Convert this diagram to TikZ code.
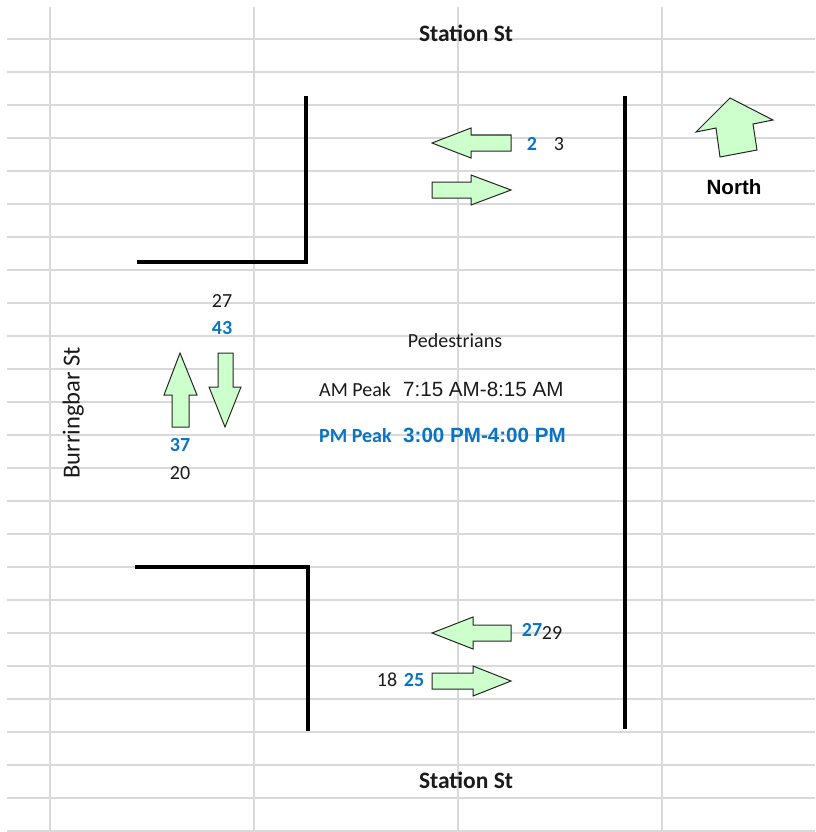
\documentclass[tikz,border=0pt]{standalone}
\usepackage{fontspec}
\setmainfont{Carlito}
\newfontfamily\arialf{Liberation Sans}
\definecolor{gridgray}{HTML}{D9D9D9}
\definecolor{xlblue}{HTML}{0A74C4}
\definecolor{arrowfill}{HTML}{CCFFCC}
\definecolor{txtblack}{HTML}{1A1A1A}
\begin{document}
\begin{tikzpicture}[x=1pt,y=-1pt,
  gridline/.style={draw=gridgray,line width=1.3pt},
  curb/.style={draw=black,line width=4.5pt,line join=miter},
  fatarrow/.style={fill=arrowfill,draw=black!85,line width=1pt,line join=miter},
  lbl/.style={inner sep=0pt,text=txtblack,font=\fontsize{20}{24}\selectfont},
  blbl/.style={inner sep=0pt,text=xlblue,font=\bfseries\fontsize{20}{24}\selectfont},
  street/.style={inner sep=0pt,text=txtblack,font=\bfseries\fontsize{23.5}{28}\selectfont},
  sidestreet/.style={inner sep=0pt,text=txtblack,font=\fontsize{24.5}{28}\selectfont,rotate=90,text depth=0pt},
  timelbl/.style={inner sep=0pt,anchor=west,text=txtblack,font=\arialf\fontsize{20.6}{24}\selectfont},
  btimelbl/.style={inner sep=0pt,anchor=west,text=xlblue,font=\arialf\bfseries\fontsize{20.6}{24}\selectfont},
  northlbl/.style={inner sep=0pt,text=black,font=\arialf\bfseries\fontsize{20.6}{24}\selectfont}]
\useasboundingbox (0,0) rectangle (815,832);
% grid
\foreach \k in {0,...,24} \draw[gridline] (7,{39+33*\k}) -- (815,{39+33*\k});
\foreach \x in {50,254,458,662} \draw[gridline] (\x,7) -- (\x,832);
% kerbs
\draw[curb] (306,96) -- (306,262) -- (137,262);
\draw[curb] (135,567) -- (308,567) -- (308,731);
\draw[curb] (625,96) -- (625,729);
% flow arrows
\draw[fatarrow] (432,143) -- (471,128) -- (471,135) -- (511,135) -- (511,151) -- (471,151) -- (471,158) -- cycle;
\draw[fatarrow] (511,190) -- (471,175) -- (471,182) -- (432,182) -- (432,198) -- (471,198) -- (471,205) -- cycle;
\draw[fatarrow] (432,633) -- (473,617) -- (473,625) -- (511,625) -- (511,641) -- (473,641) -- (473,649) -- cycle;
\draw[fatarrow] (511,681) -- (473,666) -- (473,673) -- (432,673) -- (432,689) -- (473,689) -- (473,696) -- cycle;
\draw[fatarrow] (180,353) -- (197,395) -- (189,395) -- (189,427) -- (172,427) -- (172,395) -- (164,395) -- cycle;
\draw[fatarrow] (225,427) -- (241,387) -- (233,387) -- (233,353) -- (218,353) -- (218,387) -- (209,387) -- cycle;
% north arrow
\draw[fatarrow] (730,98) -- (773,120) -- (753,124) -- (757,150) -- (720,157) -- (716,128) -- (696,132) -- cycle;
% labels
\node[street] (stTop) at (466,33) {Station St};
\node[street] (stBot) at (466,780) {Station St};
\node[sidestreet] (burr) at (71,413) {Burringbar St};
\node[northlbl] (north) at (734,187) {North};
\node[lbl] (ped) at (455,341) {Pedestrians};
\node[lbl,anchor=west] (am) at (319,390) {AM Peak};
\node[timelbl] (amt) at (403,389) {7:15 AM-8:15 AM};
\node[blbl,anchor=west] (pm) at (319,436) {PM Peak};
\node[btimelbl] (pmt) at (403,435) {3:00 PM-4:00 PM};
\node[lbl] (n27a) at (222,301) {27};
\node[blbl] (n43) at (222,328) {43};
\node[blbl] (n37) at (180,445) {37};
\node[lbl] (n20) at (180,473) {20};
\node[blbl] (n2) at (532,144) {2};
\node[lbl] (n3) at (559,144) {3};
\node[blbl] (n27b) at (532,630) {27};
\node[lbl] (n29) at (552,633) {29};
\node[lbl] (n18) at (387,680) {18};
\node[blbl] (n25) at (414,680) {25};
\end{tikzpicture}
\end{document}
